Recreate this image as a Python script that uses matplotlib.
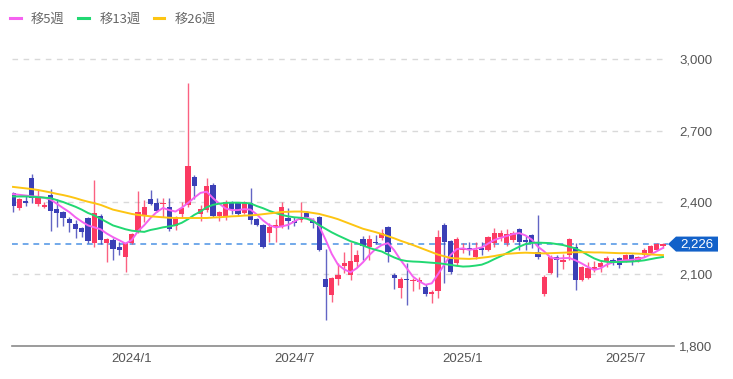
import numpy as np
import pandas as pd
import matplotlib
matplotlib.use("Agg")
import matplotlib.pyplot as plt
from matplotlib.patches import Polygon
from matplotlib.transforms import Affine2D, ScaledTranslation

# 週足データ (始値, 高値, 安値, 終値)
opens = [2440, 2377, 2406, 2503, 2394, 2381, 2431, 2373, 2360, 2331, 2310, 2293, 2335, 2231, 2344,
         2231, 2243, 2214, 2172, 2231, 2277, 2344, 2415, 2398, 2394, 2381, 2302, 2352, 2390, 2507,
         2352, 2369, 2473, 2344, 2340, 2398, 2398, 2356, 2398, 2331, 2306, 2273, 2298, 2298, 2335,
         2323, 2327, 2356, 2323, 2340, 2080, 2013, 2080, 2134, 2097, 2151, 2248, 2214, 2235, 2252,
         2298, 2097, 2042, 2080, 2072, 2068, 2047, 2017, 2030, 2306, 2239, 2147, 2202, 2210, 2172,
         2210, 2202, 2231, 2256, 2231, 2243, 2289, 2243, 2264, 2193, 2017, 2105, 2172, 2151, 2181,
         2214, 2076, 2084, 2118, 2130, 2151, 2160, 2168, 2159, 2180, 2155, 2180, 2189, 2202, 2218]
highs = [2445, 2420, 2425, 2519, 2455, 2400, 2456, 2415, 2365, 2340, 2327, 2298, 2340, 2494, 2350,
         2252, 2250, 2235, 2235, 2272, 2448, 2410, 2452, 2420, 2419, 2419, 2345, 2400, 2900, 2515,
         2390, 2503, 2480, 2365, 2410, 2405, 2402, 2405, 2461, 2335, 2310, 2315, 2330, 2400, 2375,
         2340, 2400, 2365, 2335, 2345, 2206, 2090, 2147, 2193, 2235, 2202, 2260, 2262, 2262, 2290,
         2300, 2105, 2088, 2147, 2085, 2090, 2060, 2035, 2285, 2315, 2245, 2255, 2230, 2235, 2235,
         2235, 2260, 2295, 2285, 2290, 2280, 2295, 2260, 2270, 2348, 2095, 2180, 2180, 2185, 2250,
         2231, 2135, 2150, 2155, 2160, 2175, 2168, 2172, 2185, 2185, 2176, 2210, 2222, 2231, 2231]
lows = [2360, 2370, 2385, 2398, 2385, 2378, 2280, 2298, 2302, 2277, 2252, 2256, 2231, 2214, 2227,
        2151, 2160, 2181, 2110, 2225, 2273, 2320, 2390, 2360, 2340, 2281, 2285, 2335, 2380, 2415,
        2323, 2360, 2340, 2323, 2325, 2352, 2345, 2350, 2310, 2300, 2208, 2235, 2236, 2295, 2290,
        2300, 2318, 2330, 2295, 2195, 1909, 1984, 2055, 2105, 2076, 2130, 2160, 2160, 2225, 2245,
        2150, 2040, 1999, 1972, 2030, 2040, 2010, 1980, 2000, 2063, 2100, 2140, 2190, 2180, 2165,
        2180, 2195, 2215, 2240, 2220, 2235, 2200, 2200, 2210, 2165, 2010, 2100, 2088, 2120, 2160,
        2034, 2070, 2080, 2110, 2110, 2130, 2140, 2125, 2150, 2140, 2150, 2170, 2185, 2200, 2210]
closes = [2385, 2415, 2398, 2419, 2423, 2390, 2365, 2356, 2335, 2314, 2289, 2277, 2239, 2356, 2243,
          2248, 2206, 2202, 2231, 2268, 2360, 2381, 2394, 2365, 2398, 2289, 2340, 2377, 2553, 2469,
          2373, 2469, 2344, 2360, 2402, 2373, 2352, 2402, 2327, 2306, 2214, 2298, 2306, 2381, 2323,
          2314, 2340, 2340, 2314, 2202, 2047, 2084, 2097, 2147, 2155, 2180, 2218, 2248, 2231, 2273,
          2193, 2084, 2080, 2076, 2076, 2074, 2017, 2025, 2256, 2235, 2110, 2248, 2210, 2202, 2202,
          2202, 2256, 2273, 2273, 2268, 2273, 2235, 2235, 2231, 2172, 2088, 2172, 2159, 2159, 2248,
          2076, 2130, 2126, 2130, 2147, 2168, 2155, 2139, 2180, 2155, 2172, 2202, 2218, 2227, 2226]

# 移動平均線 (チャートから読み取り)
ma5 = [2435, 2432, 2429, 2426, 2424, 2420, 2412, 2395, 2377, 2360, 2338, 2320, 2304, 2296, 2288,
       2270, 2255, 2242, 2228, 2243, 2280, 2305, 2335, 2360, 2377, 2368, 2362, 2378, 2398, 2420,
       2440, 2445, 2418, 2395, 2375, 2368, 2368, 2372, 2370, 2350, 2325, 2305, 2296, 2300, 2306,
       2320, 2335, 2336, 2328, 2300, 2245, 2185, 2140, 2120, 2108, 2125, 2150, 2180, 2205, 2222,
       2230, 2200, 2160, 2125, 2090, 2070, 2056, 2062, 2100, 2140, 2180, 2205, 2208, 2202, 2206,
       2212, 2228, 2243, 2252, 2260, 2268, 2272, 2262, 2245, 2215, 2195, 2170, 2165, 2167, 2168,
       2158, 2145, 2130, 2118, 2125, 2140, 2150, 2155, 2158, 2160, 2164, 2170, 2182, 2196, 2210]
ma13 = [2425, 2425, 2425, 2424, 2422, 2420, 2418, 2410, 2402, 2392, 2382, 2370, 2356, 2346, 2332,
        2318, 2304, 2296, 2288, 2282, 2279, 2277, 2285, 2290, 2296, 2300, 2305, 2315, 2330, 2348,
        2362, 2380, 2390, 2395, 2398, 2399, 2399, 2398, 2396, 2385, 2376, 2365, 2356, 2348, 2342,
        2338, 2336, 2332, 2322, 2305, 2290, 2275, 2262, 2250, 2238, 2230, 2220, 2210, 2202, 2195,
        2182, 2170, 2160, 2155, 2153, 2152, 2150, 2148, 2146, 2143, 2139, 2135, 2132, 2133, 2136,
        2140, 2150, 2163, 2175, 2188, 2202, 2215, 2226, 2231, 2232, 2231, 2230, 2226, 2222, 2215,
        2208, 2195, 2180, 2166, 2156, 2152, 2151, 2151, 2152, 2153, 2155, 2158, 2163, 2168, 2172]
ma26 = [2465, 2462, 2459, 2456, 2452, 2447, 2442, 2436, 2431, 2425, 2418, 2410, 2403, 2397, 2390,
        2380, 2370, 2364, 2358, 2352, 2348, 2345, 2342, 2340, 2338, 2336, 2335, 2335, 2335, 2335,
        2335, 2335, 2337, 2338, 2340, 2342, 2343, 2345, 2346, 2348, 2351, 2354, 2357, 2360, 2361,
        2362, 2362, 2360, 2356, 2352, 2345, 2338, 2330, 2320, 2310, 2300, 2290, 2283, 2276, 2268,
        2259, 2250, 2240, 2231, 2222, 2212, 2202, 2192, 2182, 2175, 2168, 2166, 2165, 2164, 2166,
        2169, 2172, 2176, 2181, 2185, 2187, 2189, 2190, 2189, 2188, 2187, 2188, 2189, 2190, 2191,
        2192, 2192, 2192, 2191, 2191, 2190, 2189, 2188, 2188, 2187, 2186, 2185, 2183, 2181, 2180]

ma_labels = ['移5週', '移13週', '移26週']
tick_months = ['2024-01', '2024-07', '2025-01', '2025-07']
y_ticks = [1800, 2100, 2400, 2700, 3000]

UP = '#fb3a62'
DOWN = '#3b3fb6'
MA_COLORS = ['#f562f0', '#21d872', '#fdc513']


def main():
    plt.rcParams['font.family'] = ['Liberation Sans', 'Noto Sans CJK JP', 'DejaVu Sans']

    o = np.array(opens)
    h = np.array(highs)
    l = np.array(lows)
    c = np.array(closes)
    x = np.arange(len(c))
    dates = pd.date_range('2023-08-21', periods=len(c), freq='W-MON')

    fig = plt.figure(figsize=(7.33, 3.79), dpi=100)
    ax = fig.add_axes([12 / 733, 33 / 379, 656 / 733, 306 / 379])

    ax.set_xlim(-0.16, len(c) - 1 + 0.8)
    ax.set_ylim(1800, 3079)

    # グリッド
    for v in y_ticks[1:]:
        ax.axhline(v, color='#d9d9d9', lw=1, ls=(0, (4, 4)), zorder=0)

    # 最新値ライン
    ax.axhline(c[-1], color='#72a9ea', lw=1.4, ls=(0, (3, 2.5)), zorder=1)

    # ローソク足
    up = c >= o
    colors = np.where(up, UP, DOWN)
    ax.vlines(x, l, h, colors=colors, lw=1.0, alpha=0.8, zorder=2)
    ax.bar(x, np.maximum(np.abs(c - o), 5), bottom=np.minimum(o, c), width=0.86,
           color=colors, zorder=3)

    # 移動平均線
    for vals, col, lab in zip([ma5, ma13, ma26], MA_COLORS, ma_labels):
        ax.plot(x, vals, color=col, lw=1.4, label=lab, zorder=4)

    for s in ['top', 'left', 'right', 'bottom']:
        ax.spines[s].set_visible(False)
    ax.plot([0, 1.009], [0, 0], transform=ax.transAxes, color='#8a8a8a', lw=1.2,
            clip_on=False, zorder=5)

    # 軸ラベル
    tick_pos = [int(np.argmax(dates.strftime('%Y-%m') == m)) for m in tick_months]
    ax.set_xticks(tick_pos)
    ax.set_xticklabels([f"{dates[p].year}/{dates[p].month}" for p in tick_pos])
    ax.yaxis.tick_right()
    ax.set_yticks(y_ticks)
    ax.set_yticklabels([f"{v:,}" for v in y_ticks])
    ax.tick_params(axis='both', length=0, labelsize=9.5, colors='#555555')
    ax.tick_params(axis='y', pad=8)
    ax.tick_params(axis='x', pad=5)

    # 現在値タグ (単位: ピクセル、基点は軸右端の最新値)
    trans = (Affine2D().scale(0.01) + fig.dpi_scale_trans +
             ScaledTranslation(1, c[-1], ax.get_yaxis_transform()))
    tag = Polygon([(0, 0), (8, 7.5), (50, 7.5), (50, -7.5), (8, -7.5)], closed=True,
                  transform=trans, facecolor='#1261c9', edgecolor='none', clip_on=False,
                  zorder=6)
    ax.add_patch(tag)
    ax.text(29, 0, f"{c[-1]:,}", transform=trans, color='white', fontsize=9.5,
            ha='center', va='center', zorder=7, clip_on=False)

    # 凡例
    leg = fig.legend(loc='upper left', bbox_to_anchor=(10 / 733, 1 - 13 / 379), ncol=3,
                     frameon=False, handlelength=0.8, handletextpad=0.8, columnspacing=1.0,
                     borderpad=0, borderaxespad=0,
                     prop={'family': ['Noto Sans CJK JP'], 'size': 9.5})
    for line in leg.get_lines():
        line.set_linewidth(2.2)
    for t in leg.get_texts():
        t.set_color('#666666')

    fig.savefig('out.png', dpi=100)


if __name__ == "__main__":
    main()
